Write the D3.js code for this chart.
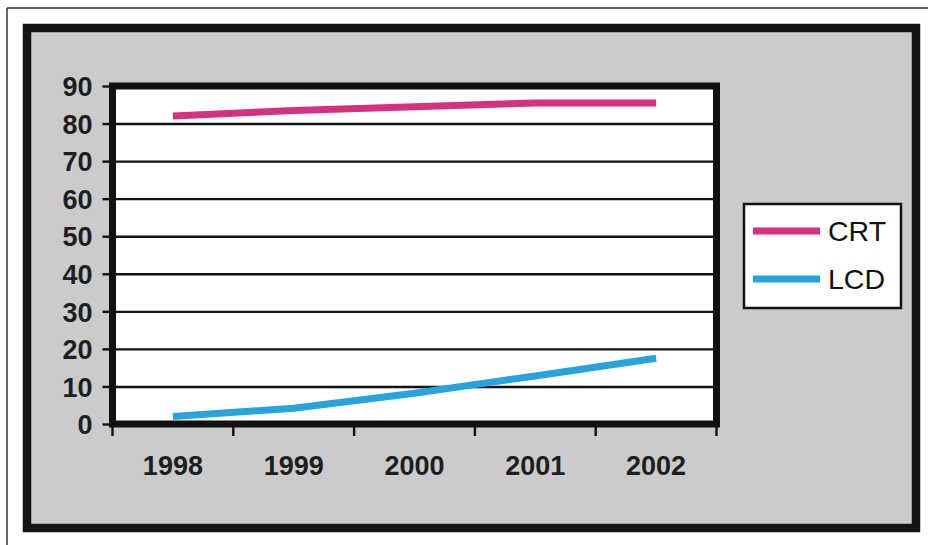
<!DOCTYPE html>
<html>
<head>
<meta charset="utf-8">
<script src="https://cdn.jsdelivr.net/npm/d3@7"></script>
<style>
html,body{margin:0;padding:0;background:#fff;}
svg{display:block;}
</style>
</head>
<body>
<svg id="chart" width="928" height="545"></svg>
<script>
const years = ["1998", "1999", "2000", "2001", "2002"];
const crtValues = [82, 83.5, 84.5, 85.5, 85.5];
const lcdValues = [2, 4.2, 8.2, 12.8, 17.5];
const yTicks = [0, 10, 20, 30, 40, 50, 60, 70, 80, 90];
const seriesNames = ["CRT", "LCD"];
const seriesColors = ["#d6317f", "#27a4dc"];

(function () {
const svg = d3.select("#chart");
const font = "'Liberation Sans', Arial, Helvetica, sans-serif";

// outer thin frame (top + left)
svg.append("line").attr("x1", 7).attr("x2", 928).attr("y1", 8).attr("y2", 8)
  .attr("stroke", "#333").attr("stroke-width", 1.5);
svg.append("line").attr("x1", 7).attr("x2", 7).attr("y1", 8).attr("y2", 545)
  .attr("stroke", "#333").attr("stroke-width", 1.5);

// gray panel with thick border
svg.append("rect").attr("x", 27).attr("y", 28).attr("width", 889).attr("height", 500)
  .attr("fill", "#cbcbcb").attr("stroke", "#151515").attr("stroke-width", 8.5);

const pL = 112.5, pR = 716.5, pT = 86, pB = 424;
const x = d3.scaleBand().domain(years).range([pL, pR]).padding(0);
const y = d3.scaleLinear().domain([0, 90]).range([pB, pT]);

// plot background
svg.append("rect").attr("x", pL).attr("y", pT).attr("width", pR - pL).attr("height", pB - pT)
  .attr("fill", "#fff");

// gridlines
const grid = svg.append("g").attr("transform", `translate(${pL},0)`)
  .call(d3.axisLeft(y).tickValues(yTicks.filter(v => v > 0 && v < 90)).tickSize(-(pR - pL)).tickFormat(""));
grid.select(".domain").remove();
grid.selectAll(".tick line").attr("stroke", "#111").attr("stroke-width", 2.4);

// y axis ticks + labels
const yAxis = svg.append("g").attr("transform", `translate(${pL},0)`)
  .call(d3.axisLeft(y).tickValues(yTicks).tickSize(10).tickPadding(10));
yAxis.select(".domain").remove();
yAxis.selectAll(".tick line").attr("stroke", "#111").attr("stroke-width", 2.4);
yAxis.selectAll(".tick text").attr("font-family", font).attr("font-weight", "bold")
  .attr("font-size", 27).attr("fill", "#1e1e1e").attr("dy", "0.36em");

// x axis labels
const xAxis = svg.append("g").attr("transform", `translate(0,${pB})`)
  .call(d3.axisBottom(x).tickSize(0).tickPadding(0));
xAxis.select(".domain").remove();
xAxis.selectAll(".tick text").attr("font-family", font).attr("font-weight", "bold")
  .attr("font-size", 27).attr("fill", "#1e1e1e").attr("y", 51).attr("dy", 0);

// x tick marks at band edges
const edges = years.map(d => x(d)).concat([x(years[years.length - 1]) + x.bandwidth()]);
svg.append("g").selectAll("line").data(edges).join("line")
  .attr("x1", d => d).attr("x2", d => d).attr("y1", pB).attr("y2", pB + 12)
  .attr("stroke", "#111").attr("stroke-width", 2.4);

// lines
const lineGen = d3.line().x((d, i) => x(years[i]) + x.bandwidth() / 2).y(d => y(d));
[crtValues, lcdValues].forEach((vals, i) => {
  svg.append("path").datum(vals).attr("d", lineGen)
    .attr("fill", "none").attr("stroke", seriesColors[i]).attr("stroke-width", 7)
    .attr("stroke-linejoin", "round");
});

// plot border
svg.append("rect").attr("x", pL).attr("y", pT).attr("width", pR - pL).attr("height", pB - pT)
  .attr("fill", "none").attr("stroke", "#111").attr("stroke-width", 7);

// legend
const lg = svg.append("g");
lg.append("rect").attr("x", 744).attr("y", 204).attr("width", 157).attr("height", 104)
  .attr("fill", "#fff").attr("stroke", "#111").attr("stroke-width", 2.5);
seriesNames.forEach((name, i) => {
  const ly = 231 + i * 48;
  lg.append("line").attr("x1", 753).attr("x2", 820).attr("y1", ly).attr("y2", ly)
    .attr("stroke", seriesColors[i]).attr("stroke-width", 7);
  lg.append("text").attr("x", 828).attr("y", ly).attr("dy", "0.36em")
    .attr("font-family", font).attr("font-size", 28.5).attr("fill", "#111").text(name);
});
})();
</script>
</body>
</html>
